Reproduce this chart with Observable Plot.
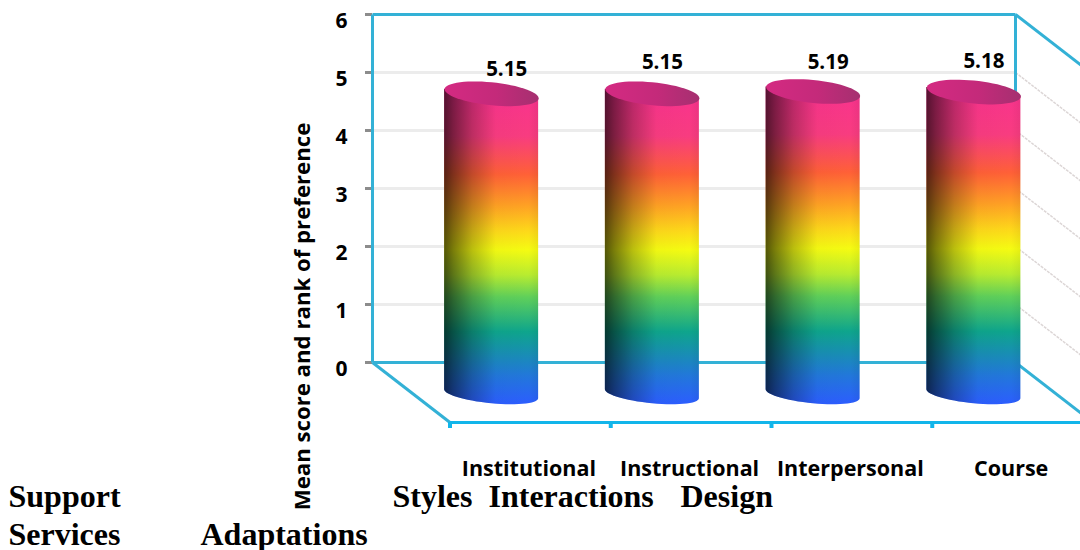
<!DOCTYPE html>
<html><head><meta charset="utf-8">
<style>html,body{margin:0;padding:0;background:#fff}svg{display:block}</style>
<script src="https://cdn.jsdelivr.net/npm/d3@7"></script>
<script src="https://cdn.jsdelivr.net/npm/@observablehq/plot@0.6"></script>
</head><body><div id="chart"></div>
<script>
const categories = ["Institutional", "Instructional", "Interpersonal", "Course"];
const values = [5.15, 5.15, 5.19, 5.18];
const yTicks = [0, 1, 2, 3, 4, 5, 6];
const axisLabel = "Mean score and rank of preference";
const strayWords = ["Support", "Styles", "Interactions", "Design", "Services", "Adaptations"];

// layout only
const strayPos = [[8, 506], [392, 506], [488, 506], [680, 506], [8, 544], [200, 544]];
const labelNudge = [[15, -24], [10, -31], [15, -29], [10, -31]];
const sans = "'Open Sans', sans-serif";
const W = 1080, H = 550, mL = 372, mR = 65, mT = 14, mB = 188;
const ux = (W - mL - mR) / 4, uy = (H - mT - mB) / 6;

// oblique projection: depth 0 = back wall, depth 1 = front of the floor
const dX = 77.5 / ux, dY = 60 / uy;
const px = (u, d) => u + d * dX;
const py = (v, d) => v - d * dY;
const seg = (u1, v1, d1, u2, v2, d2) => ({x1: px(u1, d1), y1: py(v1, d1), x2: px(u2, d2), y2: py(v2, d2)});

const frame = [
  seg(0, 6, 0, 4, 6, 0), seg(0, 0, 0, 0, 6, 0), seg(4, 0, 0, 4, 6, 0), seg(0, 0, 0, 4, 0, 0),
  seg(0, 0, 0, 0, 0, 1), seg(4, 0, 0, 4, 0, 1), seg(4, 6, 0, 4, 6, 1)
];
const front = [seg(0, 0, 1, 4, 0, 1)];
const frontTicks = d3.range(5).map(u => ({x: px(u, 1), y1: py(0, 1), y2: py(0, 1) - 6 / uy}));
const wallLines = yTicks.slice(1, 6).map(v => seg(4, v, 0, 4, v, 1));

// cylinders
const a = 47 / ux, b = 11.5 / uy, bBase = 9.5 / uy, tilt = 4.5 / uy;
const angles = d3.range(0, 361, 6).map(d => d * Math.PI / 180);
const rim = (i, v, t, r) => [px(i + 0.5, 0.5) + a * Math.cos(t), py(v, 0.5) - tilt * Math.cos(t) - r * Math.sin(t)];
const caps = values.flatMap((v, i) => angles.map(t => { const [x, y] = rim(i, v, t, b); return {i, x, y}; }));
const bodies = values.flatMap((v, i) => angles.filter(t => t <= Math.PI + 1e-6).map(t => {
  const [x, lo] = rim(i, -0.03, t, bBase);
  return {i, x, lo, hi: py(v, 0.5) - tilt * Math.cos(t)};
}));
const cats = categories.map((c, i) => ({c, x: px(i + 0.5, 1), y: py(0, 1) - 46 / uy}));

const chart = Plot.plot({
  width: W, height: H,
  marginLeft: mL, marginRight: mR, marginTop: mT, marginBottom: mB,
  x: {domain: [0, 4], axis: null},
  y: {domain: [0, 6], axis: null},
  style: {background: "#fff", overflow: "hidden"},
  marks: [
    Plot.ruleY(yTicks.slice(1, 6), {x1: 0, x2: 4, stroke: "#ececec", strokeWidth: 3}),
    Plot.link(wallLines, {x1: "x1", y1: "y1", x2: "x2", y2: "y2", stroke: "#dcd6d6", strokeWidth: 1.5, strokeDasharray: "3 1"}),
    Plot.axisY(yTicks, {anchor: "left", tickSize: 7, text: null, label: null, stroke: "#8c8c8c", strokeWidth: 3}),
    Plot.axisY(yTicks, {anchor: "left", tickSize: 0, tickPadding: 25, label: null, tickFormat: "d", fontSize: 21, fontWeight: 700, fontFamily: sans, fill: "#000", dy: 7}),
    Plot.link(frame, {x1: "x1", y1: "y1", x2: "x2", y2: "y2", stroke: "#33b1d6", strokeWidth: 3}),
    Plot.link(front, {x1: "x1", y1: "y1", x2: "x2", y2: "y2", stroke: "#12b5ea", strokeWidth: 3}),
    Plot.ruleX(frontTicks, {x: "x", y1: "y1", y2: "y2", stroke: "#12b5ea", strokeWidth: 4}),
    Plot.area(bodies, {x1: "x", y1: "lo", y2: "hi", z: "i", fill: "url(#rainbow)"}),
    Plot.area(bodies, {x1: "x", y1: "lo", y2: "hi", z: "i", fill: "url(#shade)"}),
    Plot.line(caps, {x: "x", y: "y", z: "i", fill: "url(#cap)", stroke: "none"}),
    ...values.map((v, i) => Plot.text([v], {
      x: () => px(i + 0.5, 0.5), y: () => py(v, 0.5), text: d => d.toFixed(2),
      dx: labelNudge[i][0], dy: labelNudge[i][1],
      fontSize: 20.5, fontWeight: 700, fontFamily: sans, fill: "#000"
    })),
    Plot.text(cats, {x: "x", y: "y", text: "c", dx: -1.5, dy: 0.5, fontSize: 21.5, fontWeight: 700, fontFamily: sans, fill: "#000"}),
    Plot.text([axisLabel], {frameAnchor: "top-left", textAnchor: "middle", lineAnchor: "middle", dx: 302 - mL, dy: 316 - mT, rotate: -90, fontSize: 22.2, fontWeight: 700, fontFamily: sans, fill: "#000"}),
    ...strayWords.map((w, i) => Plot.text([w], {
      frameAnchor: "top-left", textAnchor: "start", lineAnchor: "bottom",
      dx: strayPos[i][0] - mL, dy: strayPos[i][1] - mT,
      fontSize: 32, fontWeight: 700, fontFamily: "'Liberation Serif', serif", fill: "#000"
    }))
  ]
});

const stops = (el, list) => list.forEach(([o, c, op]) => {
  const s = el.append("stop").attr("offset", o).attr("stop-color", c);
  if (op !== undefined) s.attr("stop-opacity", op);
});
const defs = d3.select(chart).insert("defs", ":first-child");
stops(defs.append("linearGradient").attr("id", "rainbow").attr("x1", 0).attr("y1", 0).attr("x2", 0).attr("y2", 1), [
  ["0%", "#f9318f"], ["15%", "#f83c80"], ["27%", "#ff6037"], ["37%", "#ffa124"], ["45%", "#fdd81a"],
  ["51%", "#f5fb12"], ["59%", "#b8ec30"], ["66%", "#5fd05a"], ["77%", "#0ea58c"], ["91%", "#2277db"], ["100%", "#2c5dff"]
]);
stops(defs.append("linearGradient").attr("id", "shade").attr("x1", 0).attr("y1", 0).attr("x2", 1).attr("y2", 0), [
  ["0%", "#000", 0.66], ["10%", "#000", 0.5], ["30%", "#000", 0.24], ["55%", "#000", 0.02], ["90%", "#000", 0], ["100%", "#000", 0.05]
]);
stops(defs.append("linearGradient").attr("id", "cap").attr("x1", 0).attr("y1", 0).attr("x2", 1).attr("y2", 0), [
  ["0%", "#d42a82"], ["55%", "#c42a7a"], ["100%", "#a53070"]
]);
document.getElementById("chart").append(chart);
</script></body></html>
